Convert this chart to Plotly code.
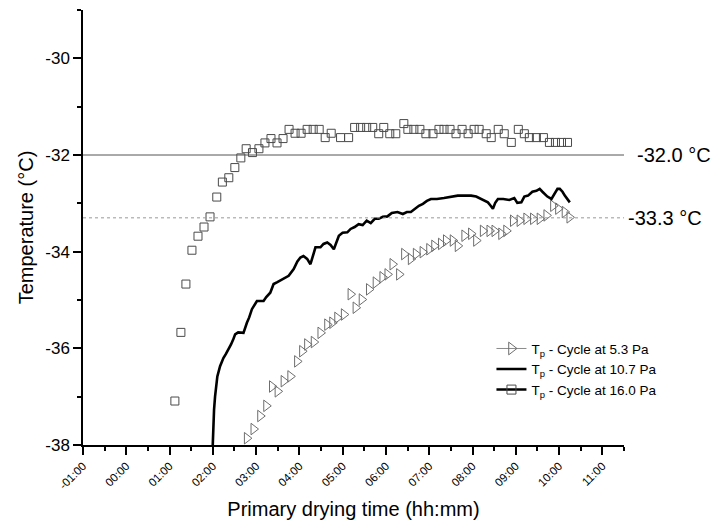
import plotly.graph_objects as go

# ---- data (time in hours, temperature in °C) ----
t_53 = [2.787, 2.940, 3.095, 3.234, 3.367, 3.497, 3.636, 3.791, 3.947, 4.063, 4.179, 4.332,
        4.487, 4.643, 4.759, 4.875, 5.028, 5.183, 5.299, 5.44, 5.608, 5.763, 5.919, 6.035,
        6.151, 6.304, 6.420, 6.575, 6.691, 6.847, 7.000, 7.116, 7.271, 7.387, 7.543, 7.659,
        7.812, 7.967, 8.084, 8.239, 8.392, 8.508, 8.664, 8.780, 8.935, 9.088, 9.244, 9.399,
        9.552, 9.708, 9.863, 9.979, 10.13, 10.24]
T_53 = [-37.86, -37.67, -37.40, -37.19, -36.79, -36.89, -36.68, -36.58, -36.27, -36.06, -35.92, -35.87,
        -35.68, -35.51, -35.47, -35.37, -35.30, -34.88, -35.16, -34.99, -34.78, -34.64, -34.53, -34.47,
        -34.26, -34.47, -34.05, -34.15, -34.05, -34.01, -33.95, -33.88, -33.84, -33.77, -33.77, -33.88,
        -33.67, -33.63, -33.77, -33.57, -33.57, -33.57, -33.63, -33.57, -33.36, -33.36, -33.32, -33.32,
        -33.32, -33.25, -33.05, -33.11, -33.18, -33.29]

t_107 = [1.998, 2.012, 2.028, 2.051, 2.074, 2.104, 2.167, 2.244, 2.306, 2.360, 2.42, 2.47,
         2.515, 2.585, 2.708, 2.787, 2.84, 2.903, 3.019, 3.172, 3.234, 3.327, 3.404, 3.49,
         3.599, 3.675, 3.752, 3.868, 3.953, 4.023, 4.093, 4.179, 4.255, 4.325, 4.371, 4.487,
         4.557, 4.643, 4.72, 4.796, 4.858, 4.912, 4.998, 5.107, 5.183, 5.276, 5.369, 5.462,
         5.555, 5.648, 5.74, 5.833, 5.926, 6.035, 6.135, 6.267, 6.39, 6.483, 6.575, 6.668,
         6.761, 6.854, 6.946, 7.039, 7.178, 7.341, 7.503, 7.659, 7.805, 7.967, 8.084, 8.200,
         8.27, 8.355, 8.41, 8.471, 8.525, 8.587, 8.71, 8.85, 8.965, 9.035, 9.128, 9.197,
         9.283, 9.383, 9.476, 9.552, 9.615, 9.668, 9.73, 9.824, 9.893, 9.963, 10.016, 10.079,
         10.132, 10.195, 10.248]
T_107 = [-38.00, -37.55, -37.27, -37.00, -36.77, -36.58, -36.37, -36.20, -36.11, -36.03, -35.92, -35.82,
         -35.71, -35.67, -35.68, -35.47, -35.36, -35.19, -35.02, -35.02, -34.94, -34.85, -34.67, -34.63,
         -34.57, -34.53, -34.50, -34.36, -34.20, -34.12, -34.09, -34.15, -34.26, -34.05, -33.91, -33.91,
         -33.84, -33.81, -33.86, -33.95, -33.78, -33.67, -33.61, -33.60, -33.53, -33.49, -33.43, -33.45,
         -33.36, -33.41, -33.32, -33.32, -33.28, -33.27, -33.20, -33.18, -33.22, -33.18, -33.18, -33.11,
         -33.05, -33.01, -32.95, -32.91, -32.91, -32.89, -32.86, -32.84, -32.84, -32.84, -32.86, -32.91,
         -32.95, -32.98, -33.04, -33.11, -32.99, -32.91, -32.91, -32.93, -32.89, -32.99, -32.98, -32.86,
         -32.84, -32.76, -32.74, -32.70, -32.76, -32.80, -32.86, -32.91, -32.80, -32.70, -32.70, -32.76,
         -32.84, -32.91, -32.98]

t_160 = [1.123, 1.262, 1.378, 1.517, 1.657, 1.796, 1.935, 2.091, 2.220, 2.369, 2.508, 2.647,
         2.770, 2.916, 3.065, 3.204, 3.343, 3.483, 3.622, 3.761, 3.900, 4.039, 4.179, 4.318,
         4.457, 4.596, 4.735, 4.951, 5.137, 5.276, 5.415, 5.555, 5.694, 5.833, 5.949, 6.088,
         6.227, 6.413, 6.506, 6.645, 6.784, 6.923, 7.086, 7.225, 7.341, 7.480, 7.619, 7.759,
         7.898, 8.037, 8.153, 8.316, 8.432, 8.594, 8.733, 8.896, 9.058, 9.197, 9.313, 9.476,
         9.638, 9.777, 9.916, 10.056, 10.195]
T_160 = [-37.09, -35.67, -34.67, -33.97, -33.68, -33.49, -33.28, -32.87, -32.56, -32.47, -32.26, -32.06,
         -31.87, -31.95, -31.87, -31.75, -31.66, -31.75, -31.66, -31.47, -31.55, -31.55, -31.47, -31.47,
         -31.47, -31.64, -31.55, -31.64, -31.64, -31.43, -31.43, -31.43, -31.43, -31.56, -31.43, -31.56,
         -31.56, -31.35, -31.47, -31.47, -31.47, -31.56, -31.56, -31.47, -31.47, -31.47, -31.56, -31.47,
         -31.56, -31.47, -31.47, -31.56, -31.64, -31.47, -31.56, -31.74, -31.47, -31.56, -31.64, -31.64,
         -31.64, -31.74, -31.74, -31.74, -31.74]

ref_levels = [-32.0, -33.3]
ref_labels = ["-32.0 °C", "-33.3 °C"]

x_tickvals = [-1, 0, 1, 2, 3, 4, 5, 6, 7, 8, 9, 10, 11]
x_ticktext = ["-01:00", "00:00", "01:00", "02:00", "03:00", "04:00", "05:00",
              "06:00", "07:00", "08:00", "09:00", "10:00", "11:00"]
x_minor = [-0.5, 0.5, 1.5, 2.5, 3.5, 4.5, 5.5, 6.5, 7.5, 8.5, 9.5, 10.5, 11.5]

y_tickvals = [-38, -36, -34, -32, -30]
y_ticktext = ["-38", "-36", "-34", "-32", "-30"]
y_minor = [-37, -35, -33, -31, -29]

series_names = ["T<sub>p</sub> - Cycle at 5.3 Pa",
                "T<sub>p</sub> - Cycle at 10.7 Pa",
                "T<sub>p</sub> - Cycle at 16.0 Pa"]

FONT = "Liberation Sans, Arial, sans-serif"

fig = go.Figure()

# data traces
fig.add_trace(go.Scatter(x=t_53, y=T_53, mode="markers", showlegend=False,
                         marker=dict(symbol="triangle-right-open", size=10,
                                     color="#6e6e6e", line=dict(width=1))))
fig.add_trace(go.Scatter(x=t_107, y=T_107, mode="lines", showlegend=False,
                         line=dict(color="black", width=2.6)))
fig.add_trace(go.Scatter(x=t_160, y=T_160, mode="markers", showlegend=False,
                         marker=dict(symbol="square-open", size=8,
                                     color="#4a4a4a", line=dict(width=1))))

# legend entries
fig.add_trace(go.Scatter(x=[None], y=[None], mode="lines+markers", name=series_names[0],
                         line=dict(color="#8a8a8a", width=1),
                         marker=dict(symbol="triangle-right-open", size=11, color="#6e6e6e")))
fig.add_trace(go.Scatter(x=[None], y=[None], mode="lines", name=series_names[1],
                         line=dict(color="black", width=2.5)))
fig.add_trace(go.Scatter(x=[None], y=[None], mode="lines+markers", name=series_names[2],
                         line=dict(color="black", width=2.5),
                         marker=dict(symbol="square-open", size=9, color="#4a4a4a")))

# reference lines
fig.add_hline(y=ref_levels[0], line=dict(color="#555555", width=1))
fig.add_hline(y=ref_levels[1], line=dict(color="#999999", width=1, dash="dot"))
fig.add_annotation(x=1.02, xref="paper", y=ref_levels[0], yref="y", text=ref_labels[0],
                   showarrow=False, xanchor="left", yanchor="middle",
                   font=dict(family=FONT, size=20, color="black"))
fig.add_annotation(x=1.003, xref="paper", y=ref_levels[1], yref="y", text=ref_labels[1],
                   showarrow=False, xanchor="left", yanchor="middle",
                   font=dict(family=FONT, size=20, color="black"))

fig.update_layout(
    width=721, height=527,
    margin=dict(l=83, r=97, t=10, b=82),
    paper_bgcolor="white", plot_bgcolor="white",
    font=dict(family=FONT, color="black"),
    showlegend=True,
    legend=dict(x=0.755, y=0.257, xanchor="left", yanchor="top",
                bgcolor="rgba(0,0,0,0)", font=dict(family=FONT, size=13.5),
                itemwidth=30, tracegroupgap=0),
    xaxis=dict(range=[-1, 11.5], tickmode="array", tickvals=x_tickvals, ticktext=x_ticktext,
               tickangle=-45, tickfont=dict(size=11.5), ticks="outside", ticklen=8,
               tickwidth=1.5, tickcolor="black", showline=True, linecolor="black",
               linewidth=1.5, showgrid=False, zeroline=False,
               minor=dict(tickmode="array", tickvals=x_minor, ticks="outside", ticklen=4,
                          tickwidth=1.5, tickcolor="black", showgrid=False),
               title=dict(text="Primary drying time (hh:mm)", font=dict(size=20), standoff=12)),
    yaxis=dict(range=[-38, -29], tickmode="array", tickvals=y_tickvals, ticktext=y_ticktext,
               tickfont=dict(size=17), ticks="outside", ticklen=8, tickwidth=1.5,
               tickcolor="black", showline=True, linecolor="black", linewidth=1.5,
               showgrid=False, zeroline=False,
               minor=dict(tickmode="array", tickvals=y_minor, ticks="outside", ticklen=4,
                          tickwidth=1.5, tickcolor="black", showgrid=False),
               title=dict(text="Temperature (°C)", font=dict(size=20), standoff=6)),
)

fig.write_html("out.html")
